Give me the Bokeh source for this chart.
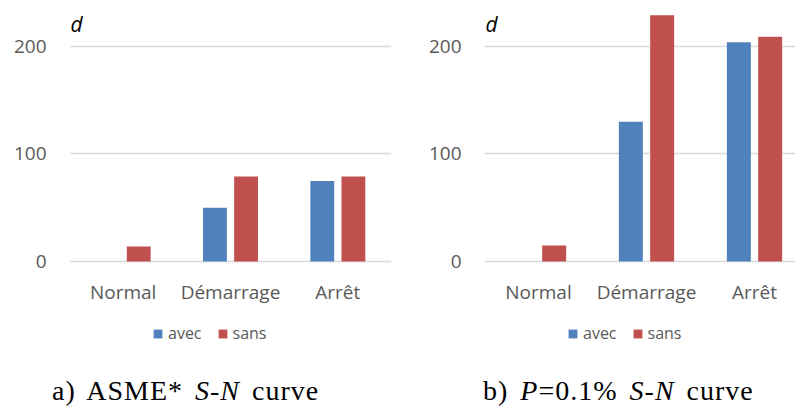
from bokeh.plotting import figure
from bokeh.models import (Range1d, FixedTicker, Legend, LegendItem, Label, ColumnDataSource, Div)
from bokeh.layouts import row, column
from bokeh.embed import file_html
from bokeh.resources import INLINE

categories = ["Normal", "Démarrage", "Arrêt"]
series = ["avec", "sans"]
colors = ["#4F81BD", "#C0504D"]
asme_avec = [0, 50, 75]
asme_sans = [14, 79, 79]
p01_avec = [0, 130, 204]
p01_sans = [15, 229, 209]
y_ticks = [0, 100, 200]
caption_a = 'a) ASME* <i>S-N</i> curve'
caption_b = 'b) <i>P</i>=0.1% <i>S-N</i> curve'

SANS = "Open Sans"
SERIF = "Liberation Serif"
GRAY = "#595959"
MAIN_H = 310
LEG_H = 55
CAP_H = 406 - MAIN_H - LEG_H


def make_panel(avec, sans, width, border_left, border_right, x_end, d_x, legend_x):
    p = figure(width=width, height=MAIN_H, output_backend="svg", toolbar_location=None,
               x_range=Range1d(0, x_end), y_range=Range1d(-3.7, 231.6),
               min_border_left=border_left, min_border_right=border_right,
               min_border_top=12, min_border_bottom=MAIN_H - 265)
    p.outline_line_color = None
    p.xgrid.grid_line_color = None
    p.ygrid.grid_line_color = "#d9d9d9"
    p.ygrid.grid_line_width = 1.6
    p.ygrid.ticker = FixedTicker(ticks=y_ticks)

    xs = [i + 0.5 for i in range(len(categories))]
    off = 0.145
    w = 0.222
    src = ColumnDataSource(dict(xa=[x - off for x in xs], xs=[x + off for x in xs],
                                avec=avec, sans=sans))
    p.vbar(x="xa", top="avec", width=w, bottom=0, source=src,
           fill_color=colors[0], line_color=None)
    p.vbar(x="xs", top="sans", width=w, bottom=0, source=src,
           fill_color=colors[1], line_color=None)

    xa = p.xaxis[0]
    xa.ticker = FixedTicker(ticks=xs)
    xa.major_label_overrides = {x: c for x, c in zip(xs, categories)}
    xa.axis_line_color = None
    xa.major_tick_line_color = None
    xa.minor_tick_line_color = None
    xa.major_tick_out = 0
    xa.major_label_standoff = 13
    xa.major_label_text_font = SANS
    xa.major_label_text_font_size = "19px"
    xa.major_label_text_color = GRAY

    ya = p.yaxis[0]
    ya.ticker = FixedTicker(ticks=y_ticks)
    ya.axis_line_color = None
    ya.major_tick_line_color = None
    ya.minor_tick_line_color = None
    ya.major_tick_out = 0
    ya.major_label_standoff = 23
    ya.major_label_text_font = SANS
    ya.major_label_text_font_size = "19px"
    ya.major_label_text_color = GRAY

    p.add_layout(Label(x=d_x, y=242, x_units="screen", y_units="screen", text="d",
                       text_font=SANS, text_font_style="italic", text_font_size="21px",
                       text_color="black", text_baseline="alphabetic"))

    # legend strip under the chart (its frame is aligned with the chart's frame)
    lg = figure(width=width, height=LEG_H, output_backend="svg", toolbar_location=None,
                x_range=Range1d(0, x_end), y_range=Range1d(1000, 1001),
                x_axis_type=None, y_axis_type=None,
                min_border_left=border_left, min_border_right=border_right,
                min_border_top=0, min_border_bottom=0)
    lg.outline_line_color = None
    lg.grid.grid_line_color = None
    ra = lg.vbar(x="xa", top="avec", width=w, bottom=0, source=src,
                 fill_color=colors[0], line_color=None)
    rs = lg.vbar(x="xs", top="sans", width=w, bottom=0, source=src,
                 fill_color=colors[1], line_color=None)
    legend = Legend(items=[LegendItem(label=series[0], renderers=[ra]),
                           LegendItem(label=series[1], renderers=[rs])],
                    orientation="horizontal", location=(legend_x, 21),
                    glyph_width=11, glyph_height=11, label_standoff=5, spacing=15,
                    padding=0, margin=0, border_line_color=None,
                    background_fill_alpha=0, label_text_font=SANS,
                    label_text_font_size="16px", label_text_color=GRAY,
                    label_height=20)
    lg.add_layout(legend, "center")
    return p, lg


def caption_div(html, width, pad_left):
    style = (f"font-family:'{SERIF}';font-size:28px;line-height:28px;color:black;"
             f"padding-left:{pad_left}px;padding-top:12px;letter-spacing:1px;"
             f"word-spacing:4px;white-space:nowrap;margin:0;")
    return Div(text=f'<div style="{style}">{html}</div>', width=width, height=CAP_H,
               margin=0)


left, left_lg = make_panel(asme_avec, asme_sans, 395, 69, 4, 3.0, 1, 83)
right, right_lg = make_panel(p01_avec, p01_sans, 400, 89, 0, 311 / 108, 1, 83)

layout = row(column(left, left_lg, caption_div(caption_a, 395, 52), spacing=0),
             column(right, right_lg, caption_div(caption_b, 400, 88), spacing=0), spacing=0)
open("out.html", "w").write(file_html(layout, INLINE))
